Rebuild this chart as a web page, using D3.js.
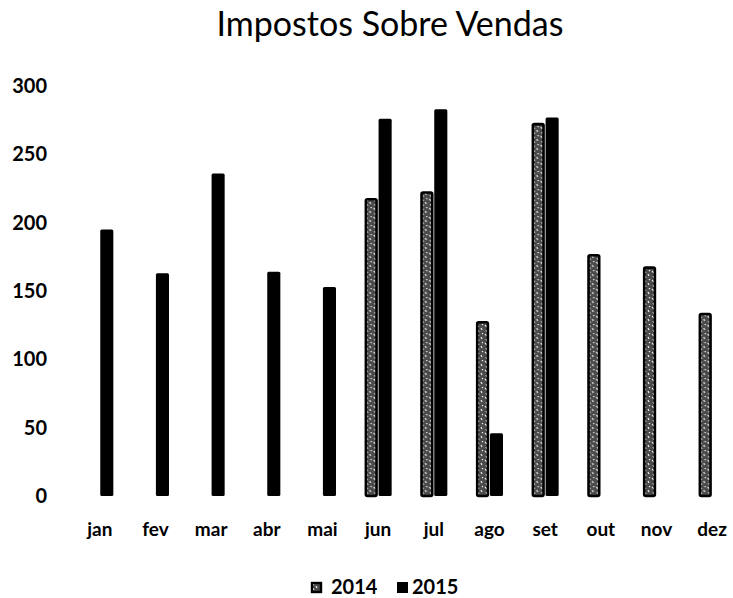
<!DOCTYPE html>
<html>
<head>
<meta charset="utf-8">
<script src="https://cdn.jsdelivr.net/npm/d3@7"></script>
<style>
    body { margin: 0; background: #fff; }
    text { font-family: Lato, "Open Sans", sans-serif; fill: #000; }
</style>
</head>
<body>
<script>
(function(){

    //chart data
    var months = ["jan", "fev", "mar", "abr", "mai", "jun", "jul", "ago", "set", "out", "nov", "dez"];
    var seriesNames = ["2014", "2015"];
    var values2014 = [null, null, null, null, null, 218, 223, 128, 273, 177, 168, 134];
    var values2015 = [195, 163, 236, 164, 153, 276, 283, 46, 277, null, null, null];
    var yTicks = [0, 50, 100, 150, 200, 250, 300];

    //frame dimensions
    var width = 733,
        height = 598,
        leftPadding = 72,
        rightEdge = 740,
        topY = 86,
        bottomY = 496;

    var svg = d3.select("body")
        .append("svg")
        .attr("width", width)
        .attr("height", height);

    //scales
    var x0 = d3.scaleBand()
        .domain(months)
        .range([leftPadding, rightEdge])
        .paddingInner(0.515)
        .paddingOuter(0.2575);

    var x1 = d3.scaleBand()
        .domain(seriesNames)
        .range([0, x0.bandwidth()])
        .paddingInner(0.06);

    var yScale = d3.scaleLinear()
        .domain([0, 300])
        .range([bottomY, topY]);

    //speckled pattern for the 2014 bars
    var defs = svg.append("defs");
    var pat = defs.append("pattern")
        .attr("id", "speckle")
        .attr("patternUnits", "userSpaceOnUse")
        .attr("width", 8)
        .attr("height", 9);
    pat.append("rect").attr("width", 8).attr("height", 9).attr("fill", "#4a4a4a");
    pat.append("path")
        .attr("d", "M1,1 L3,3 M5,4 L6,6 M2,6 L3,8 M6,0 L7,1")
        .attr("stroke", "#eeeeee")
        .attr("stroke-width", 1.2);

    //title
    svg.append("text")
        .attr("x", 390)
        .attr("y", 36)
        .attr("text-anchor", "middle")
        .style("font-size", "34px")
        .text("Impostos Sobre Vendas");

    //y axis labels
    svg.append("g")
        .selectAll("text")
        .data(yTicks)
        .enter()
        .append("text")
        .attr("x", 47)
        .attr("y", function(d){ return yScale(d) + 7; })
        .attr("text-anchor", "end")
        .style("font-size", "20px")
        .style("font-weight", "700")
        .text(function(d){ return d; });

    //x axis labels
    svg.append("g")
        .selectAll("text")
        .data(months)
        .enter()
        .append("text")
        .attr("x", function(d){ return x0(d) + x0.bandwidth() / 2; })
        .attr("y", 536)
        .attr("text-anchor", "middle")
        .style("font-size", "19px")
        .style("font-weight", "700")
        .text(function(d){ return d; });

    //bars
    var rows = months.map(function(m, i){
        return {month: m, vals: [
            {key: "2014", v: values2014[i]},
            {key: "2015", v: values2015[i]}
        ]};
    });

    var groups = svg.selectAll(".grp")
        .data(rows)
        .enter()
        .append("g")
        .attr("class", "grp")
        .attr("transform", function(d){ return "translate(" + x0(d.month) + ",0)"; });

    groups.selectAll("rect")
        .data(function(d){ return d.vals.filter(function(e){ return e.v != null; }); })
        .enter()
        .append("rect")
        .attr("x", function(d){ return x1(d.key) + (d.key === "2014" ? 1.2 : 0); })
        .attr("y", function(d){ return yScale(d.v) + (d.key === "2014" ? 1.2 : 0); })
        .attr("width", function(d){ return x1.bandwidth() - (d.key === "2014" ? 2.4 : 0); })
        .attr("height", function(d){ return bottomY - yScale(d.v) - (d.key === "2014" ? 1.2 : 0); })
        .attr("rx", 1.5)
        .attr("fill", function(d){ return d.key === "2014" ? "url(#speckle)" : "#000"; })
        .attr("stroke", function(d){ return d.key === "2014" ? "#000" : "none"; })
        .attr("stroke-width", 2.6);

    //legend
    var legend = svg.append("g").attr("transform", "translate(311,582)");
    legend.append("rect")
        .attr("x", 1).attr("y", 1).attr("width", 9).attr("height", 9)
        .attr("fill", "url(#speckle)").attr("stroke", "#000").attr("stroke-width", 2.4);
    legend.append("text")
        .attr("x", 20).attr("y", 12)
        .style("font-size", "20px").style("font-weight", "700")
        .text(seriesNames[0]);
    legend.append("rect")
        .attr("x", 86).attr("y", 0).attr("width", 11).attr("height", 11)
        .attr("fill", "#000");
    legend.append("text")
        .attr("x", 101).attr("y", 12)
        .style("font-size", "20px").style("font-weight", "700")
        .text(seriesNames[1]);

})();
</script>
</body>
</html>
